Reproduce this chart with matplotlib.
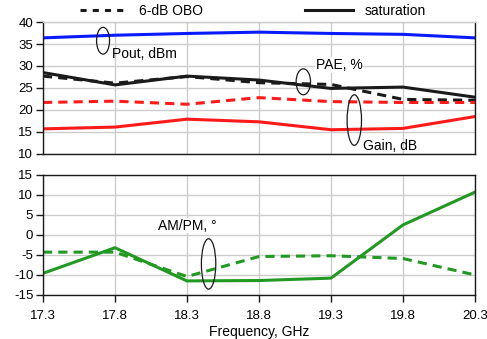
"""
PA performance vs frequency: Pout, PAE, gain (top) and AM/PM (bottom).
"""

import matplotlib
matplotlib.use("Agg")
import matplotlib.pyplot as plt
from matplotlib.lines import Line2D
from matplotlib.patches import Ellipse

plt.rcParams["font.family"] = ["Liberation Sans", "DejaVu Sans"]
plt.rcParams["font.size"] = 9
plt.rcParams["axes.unicode_minus"] = False

freq = [17.3, 17.8, 18.3, 18.8, 19.3, 19.8, 20.3]
x_ticks = [17.3, 17.8, 18.3, 18.8, 19.3, 19.8, 20.3]

pout_sat = [36.4, 37.0, 37.4, 37.7, 37.4, 37.2, 36.4]
pae_sat = [28.5, 25.7, 27.7, 26.8, 24.9, 25.2, 22.9]
pae_obo = [27.7, 26.1, 27.6, 26.2, 25.8, 22.4, 22.2]
gain_sat = [15.7, 16.1, 17.9, 17.3, 15.5, 15.8, 18.5]
gain_obo = [21.7, 22.0, 21.3, 22.8, 21.9, 21.7, 21.7]

ampm_sat = [-9.6, -3.2, -11.5, -11.4, -10.8, 2.5, 10.7]
ampm_obo = [-4.3, -4.3, -10.4, -5.4, -5.2, -5.9, -10.0]

BLUE = "#0a1aff"
RED = "#ff1a1a"
BLACK = "#1a1a1a"
GREEN = "#229922"
GRID = "#cccccc"
LW = 2.2
DASH = (3, 2)
LABEL_FS = 10

fig = plt.figure(figsize=(4.87, 3.39), dpi=100)
ax1 = fig.add_axes([0.0883, 0.546, 0.887, 0.389])
ax2 = fig.add_axes([0.0883, 0.130, 0.887, 0.354])

# top panel
ax1.plot(freq, pout_sat, color=BLUE, lw=LW)
ax1.plot(freq, pae_sat, color=BLACK, lw=LW)
ax1.plot(freq, pae_obo, color=BLACK, lw=LW, dashes=DASH)
ax1.plot(freq, gain_sat, color=RED, lw=LW)
ax1.plot(freq, gain_obo, color=RED, lw=LW, dashes=DASH)

ax1.set_xlim(17.3, 20.3)
ax1.set_ylim(10, 40)
ax1.set_yticks(range(10, 41, 5))
ax1.set_xticks(x_ticks)

# bottom panel
ax2.plot(freq, ampm_sat, color=GREEN, lw=LW)
ax2.plot(freq, ampm_obo, color=GREEN, lw=LW, dashes=DASH)
ax2.set_xlim(17.3, 20.3)
ax2.set_ylim(-15, 15)
ax2.set_yticks(range(-15, 16, 5))
ax2.set_xticks(x_ticks)
ax2.set_xticklabels([f"{t:.1f}" for t in x_ticks])
ax2.set_xlabel("Frequency, GHz", labelpad=2, fontsize=LABEL_FS)

for ax in (ax1, ax2):
    ax.grid(True, color=GRID, lw=1)
    ax.set_axisbelow(True)
    ax.tick_params(direction="out", length=5, width=1, color=BLACK,
                   labelsize=9.5, pad=2)
    for s in ax.spines.values():
        s.set_color(BLACK)
        s.set_linewidth(1)
ax1.spines["top"].set_color(GRID)
ax1.tick_params(axis="x", length=0, labelbottom=False)
ax2.tick_params(axis="x", pad=6)

# labels with ellipses
def tag(ax, x, y, w, h):
    ax.add_patch(Ellipse((x, y), w, h, fill=False, ec=BLACK, lw=0.9,
                         zorder=5))

tag(ax1, 17.717, 35.75, 0.09, 6.1)
ax1.text(17.78, 32.7, "Pout, dBm", va="center", ha="left",
         fontsize=LABEL_FS)
tag(ax1, 19.108, 26.4, 0.10, 5.9)
ax1.text(19.196, 30.2, "PAE, %", va="center", ha="left", fontsize=LABEL_FS,
         bbox=dict(fc="white", ec="none", pad=0.5))
tag(ax1, 19.462, 17.7, 0.10, 11.5)
ax1.text(19.52, 11.8, "Gain, dB", va="center", ha="left",
         fontsize=LABEL_FS)

tag(ax2, 18.45, -7.25, 0.10, 12.6)
ax2.text(18.30, 2.3, "AM/PM, °", va="center", ha="center",
         fontsize=LABEL_FS, bbox=dict(fc="white", ec="none", pad=0.5))

handles = [
    Line2D([], [], color=BLACK, lw=LW, dashes=(2, 2)),
    Line2D([], [], color=BLACK, lw=LW),
]
fig.legend(handles, ["6-dB OBO", "saturation"], ncol=2, frameon=False,
           loc="center", bbox_to_anchor=(0.519, 0.968), handlelength=3.5,
           handletextpad=0.8, columnspacing=7.3, fontsize=LABEL_FS,
           borderaxespad=0, borderpad=0)

fig.savefig("out.png", dpi=100)
